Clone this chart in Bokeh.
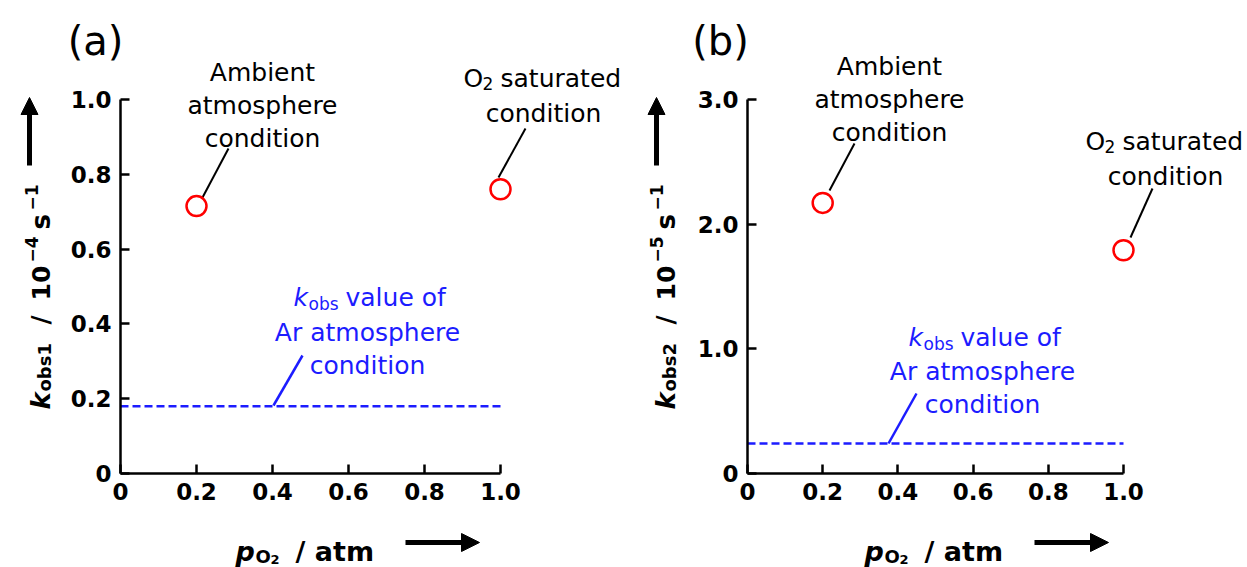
import math
from bokeh.plotting import figure
from bokeh.models import Range1d, FixedTicker, Label, Arrow, NormalHead
from bokeh.layouts import row
from bokeh.embed import file_html
from bokeh.resources import INLINE

# ---------------- data ----------------
p_o2 = [0.2, 1.0]                 # O2 partial pressure / atm
kobs1 = [0.715, 0.76]             # k_obs1 / 1e-4 s^-1
kobs2 = [2.17, 1.79]              # k_obs2 / 1e-5 s^-1
kobs1_ar = 0.18                   # Ar atmosphere level (a)
kobs2_ar = 0.24                   # Ar atmosphere level (b)
x_ticks = [0, 0.2, 0.4, 0.6, 0.8, 1.0]
x_tick_labels = ["0", "0.2", "0.4", "0.6", "0.8", "1.0"]
y1_ticks = [0, 0.2, 0.4, 0.6, 0.8, 1.0]
y1_tick_labels = ["0", "0.2", "0.4", "0.6", "0.8", "1.0"]
y2_ticks = [0, 1.0, 2.0, 3.0]
y2_tick_labels = ["0", "1.0", "2.0", "3.0"]

FONT = "DejaVu Sans"
BLUE = "#1c1cff"
H = 567
AXIS_Y = 473  # pixel row of y = 0


def make_panel(width, axis_px, sx, sy, yticks, ylabels):
    p = figure(width=width, height=H,
               x_range=Range1d(-axis_px / sx, (width - axis_px) / sx),
               y_range=Range1d(-(H - AXIS_Y) / sy, AXIS_Y / sy),
               output_backend="svg", toolbar_location=None, title=None,
               min_border=0, min_border_left=0, min_border_right=0, min_border_top=0,
               min_border_bottom=0, outline_line_color=None,
               background_fill_color="white", border_fill_color="white")
    p.grid.visible = False
    for ax, ticks, labels in ((p.xaxis[0], x_ticks, x_tick_labels), (p.yaxis[0], yticks, ylabels)):
        ax.fixed_location = 0
        ax.ticker = FixedTicker(ticks=ticks)
        ax.major_label_overrides = {t: l for t, l in zip(ticks, labels)}
        ax.bounds = (ticks[0], ticks[-1])
        ax.axis_line_width = 2.5
        ax.axis_line_color = "black"
        ax.major_tick_line_width = 2.5
        ax.major_tick_line_color = "black"
        ax.major_tick_in = 9
        ax.major_tick_out = 0
        ax.minor_tick_line_color = None
        ax.major_label_standoff = 9
        ax.major_label_text_font = FONT
        ax.major_label_text_font_style = "bold"
        ax.major_label_text_font_size = "23px"
        ax.major_label_text_color = "black"

    def X(px):
        return (px - axis_px) / sx

    def Y(py):
        return (AXIS_Y - py) / sy

    return p, X, Y


def lab(p, X, Y, px, py, text, size, style="normal", color="black", align="left",
        baseline="alphabetic", angle=0.0):
    p.add_layout(Label(x=X(px), y=Y(py), text=text, text_font=FONT, text_font_size=f"{size}px",
                       text_font_style=style, text_color=color, text_align=align,
                       text_baseline=baseline, angle=angle))


def arrow(p, X, Y, x0, y0, x1, y1, w, head):
    p.add_layout(Arrow(end=NormalHead(size=head, fill_color="black", line_color="black", line_width=1),
                       x_start=X(x0), y_start=Y(y0), x_end=X(x1), y_end=Y(y1),
                       line_width=w, line_color="black"))


def decorate(p, X, Y, kvals, ar_level, cfg):
    # dashed Ar-atmosphere level
    p.line([x_ticks[0], x_ticks[-1]], [ar_level, ar_level], line_color=BLUE, line_width=2.5,
           line_dash="8 4")
    # leader lines
    segs = cfg["black_segs"]
    p.segment([X(s[0]) for s in segs], [Y(s[1]) for s in segs],
              [X(s[2]) for s in segs], [Y(s[3]) for s in segs], line_color="black", line_width=2)
    b = cfg["blue_seg"]
    p.segment([X(b[0])], [Y(b[1])], [X(b[2])], [Y(b[3])], line_color=BLUE, line_width=2.5)
    # data points
    p.scatter(p_o2, kvals, marker="circle", size=20, line_color="red", line_width=2.5,
              fill_color="white")
    # panel tag
    lab(p, X, Y, cfg["tag"][0], cfg["tag"][1], cfg["tag"][2], 40, align="center", baseline="middle")
    # ambient annotation
    cx, b0, b1, b2 = cfg["ambient"]
    for t, by in (("Ambient", b0), ("atmosphere", b1), ("condition", b2)):
        lab(p, X, Y, cx, by, t, 25, align="center")
    # O2 saturated annotation
    cx, b0, b1 = cfg["o2sat"]
    lab(p, X, Y, cx - 80, b0, "O", 25)
    lab(p, X, Y, cx - 61, b0 + 5, "2", 17)
    lab(p, X, Y, cx - 43, b0, "saturated", 25)
    lab(p, X, Y, cx, b1, "condition", 25, align="center")
    # blue Ar annotation
    cx, b0, b1, b2 = cfg["ar"]
    lab(p, X, Y, cx - 74, b0, "k", 25, style="italic", color=BLUE)
    lab(p, X, Y, cx - 59, b0 + 6, "obs", 17, color=BLUE)
    lab(p, X, Y, cx - 22, b0, "value of", 25, color=BLUE)
    lab(p, X, Y, cx, b1, "Ar atmosphere", 25, color=BLUE, align="center")
    lab(p, X, Y, cx, b2, "condition", 25, color=BLUE, align="center")
    # x axis title
    x0 = cfg["xlab"]
    lab(p, X, Y, x0, 551, "p", 27, style="bold italic")
    lab(p, X, Y, x0 + 20, 556, "O", 18, style="bold")
    lab(p, X, Y, x0 + 35, 559, "2", 13, style="bold")
    lab(p, X, Y, x0 + 60, 551, "/ atm", 27, style="bold")
    arrow(p, X, Y, x0 + 170, 542, x0 + 244, 542, 5, 18)
    # y axis title (rotated)
    base, sub, sup, arx = cfg["ylab"]
    a = math.pi / 2
    lab(p, X, Y, base, 409, "k", 26, style="bold italic", angle=a)
    lab(p, X, Y, sub, 391, cfg["sub"], 18, style="bold", angle=a)
    lab(p, X, Y, base, 324, "/", 25, style="bold", angle=a)
    lab(p, X, Y, base, 300, "10", 25, style="bold", angle=a)
    lab(p, X, Y, sup, 262, cfg["exp"], 17, style="bold", angle=a)
    lab(p, X, Y, base, 229, "s", 26, style="bold", angle=a)
    lab(p, X, Y, sup, 210, "−1", 17, style="bold", angle=a)
    arrow(p, X, Y, arx, 165, arx, 97, 5, 17)


# panel (a)
pa, Xa, Ya = make_panel(623, 120, 380, 374, y1_ticks, y1_tick_labels)
decorate(pa, Xa, Ya, kobs1, kobs1_ar, dict(
    tag=(95, 40, "(a)"),
    ambient=(262, 72, 105, 138),
    o2sat=(543, 78, 113),
    ar=(367, 297, 332, 365),
    black_segs=[(228, 148, 202, 197), (525, 128, 498, 177)],
    blue_seg=(302, 355, 273, 405),
    xlab=235,
    ylab=(40, 44, 31, 29),
    sub="obs1", exp="−4"))

# panel (b)  (pixel positions relative to the panel's left edge)
pb, Xb, Yb = make_panel(624, 124, 376, 124.7, y2_ticks, y2_tick_labels)
decorate(pb, Xb, Yb, kobs2, kobs2_ar, dict(
    tag=(97, 40, "(b)"),
    ambient=(266, 66, 99, 132),
    o2sat=(542, 141, 176),
    ar=(359, 337, 371, 404),
    black_segs=[(231, 143, 206, 190), (529, 188, 507, 237)],
    blue_seg=(293, 393, 265, 443),
    xlab=241,
    ylab=(42, 46, 33, 33),
    sub="obs2", exp="−5"))

layout = row(pa, pb)
open("out.html", "w").write(file_html(layout, INLINE))
